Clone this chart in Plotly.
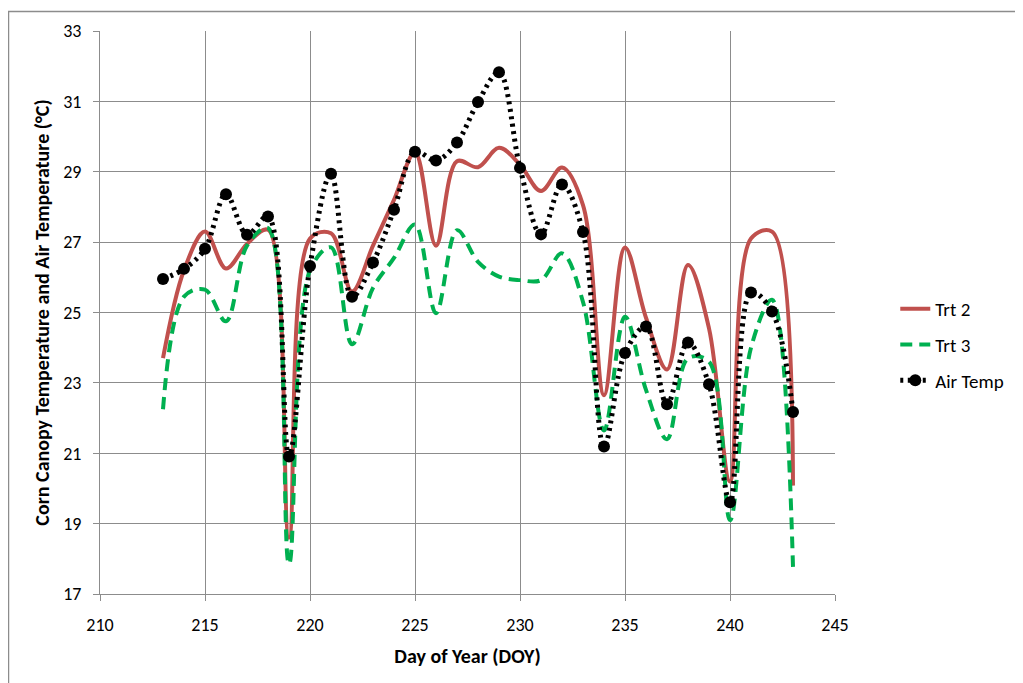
import plotly.graph_objects as go

days = list(range(213, 244))

trt2 = [23.7, 26.2, 27.3, 26.25, 26.95, 27.35, 18.6, 27.1, 27.25, 25.6,
        26.9, 28.2, 29.55, 26.9, 29.3, 29.13, 29.68, 29.2, 28.45, 29.12,
        28.05, 22.65, 26.85, 24.85, 23.38, 26.35, 24.55, 20.2, 27.1, 27.3, 20.08]

trt3 = [22.25, 25.45, 25.65, 24.75, 26.9, 27.4, 17.85, 26.2, 26.85, 24.1,
        25.7, 26.55, 27.5, 24.98, 27.34, 26.44, 26.02, 25.92, 25.92, 26.68,
        25.3, 21.65, 24.88, 22.8, 21.4, 23.7, 23.6, 19.1, 24.0, 25.36, 17.77]

air = [25.95, 26.24, 26.81, 28.36, 27.21, 27.73, 20.91, 26.32, 28.94, 25.45,
       26.42, 27.92, 29.57, 29.32, 29.83, 30.98, 31.83, 29.11, 27.22, 28.64,
       27.29, 21.19, 23.85, 24.6, 22.39, 24.15, 22.96, 19.61, 25.57, 25.03, 22.17]

x_ticks = [210, 215, 220, 225, 230, 235, 240, 245]
y_ticks = [17, 19, 21, 23, 25, 27, 29, 31, 33]

FONT = "Carlito, Calibri, Lato, sans-serif"
GRID = "#8c8c8c"

fig = go.Figure()
fig.add_trace(go.Scatter(
    x=days, y=trt2, name="Trt 2", mode="lines", legendgroup="a",
    line=dict(color="#C0504D", width=4, shape="spline", smoothing=1.0),
))
fig.add_trace(go.Scatter(
    x=days, y=trt3, name="Trt 3", mode="lines", legendgroup="b",
    line=dict(color="#00B050", width=4, shape="spline", smoothing=1.0, dash="12px,7px"),
))
fig.add_trace(go.Scatter(
    x=days, y=air, name="Air Temp", mode="lines+markers", legendgroup="c",
    line=dict(color="black", width=5, shape="spline", smoothing=1.0, dash="3px,4.5px"),
    marker=dict(color="black", size=12, symbol="circle"),
))

fig.update_layout(
    width=1015, height=675,
    margin=dict(l=92, r=188, t=20, b=89),
    paper_bgcolor="white", plot_bgcolor="white",
    font=dict(family=FONT, size=18, color="black"),
    showlegend=True,
    legend=dict(x=1.082, y=0.54, xanchor="left", yanchor="top",
                font=dict(family=FONT, size=19, color="black"),
                traceorder="grouped", tracegroupgap=8,
                bgcolor="rgba(0,0,0,0)"),
    xaxis=dict(range=[210, 245], tickvals=x_ticks, ticktext=[str(v) for v in x_ticks],
               showgrid=True, gridcolor=GRID, gridwidth=1,
               showline=True, linecolor=GRID, linewidth=1,
               ticks="outside", ticklen=6, tickcolor=GRID, zeroline=False,
               tickfont=dict(family=FONT, size=18), ticklabelstandoff=8,
               title=dict(text="<b>Day of Year (DOY)</b>", font=dict(family=FONT, size=20), standoff=14)),
    yaxis=dict(range=[17, 33], tickvals=y_ticks, ticktext=[str(v) for v in y_ticks],
               showgrid=True, gridcolor=GRID, gridwidth=1,
               showline=True, linecolor=GRID, linewidth=1,
               ticks="outside", ticklen=6, tickcolor=GRID, zeroline=False,
               tickfont=dict(family=FONT, size=18), ticklabelstandoff=8,
               title=dict(text="<b>Corn Canopy Temperature and Air Temperature (°C)</b>",
                          font=dict(family=FONT, size=20), standoff=8)),
)

fig.add_shape(type="rect", xref="paper", yref="paper",
              x0=-0.1245, y0=-0.3, x1=1.5, y1=1.0345,
              line=dict(color="#8c8c8c", width=1.5), fillcolor="rgba(0,0,0,0)", layer="below")

fig.write_html("out.html")
